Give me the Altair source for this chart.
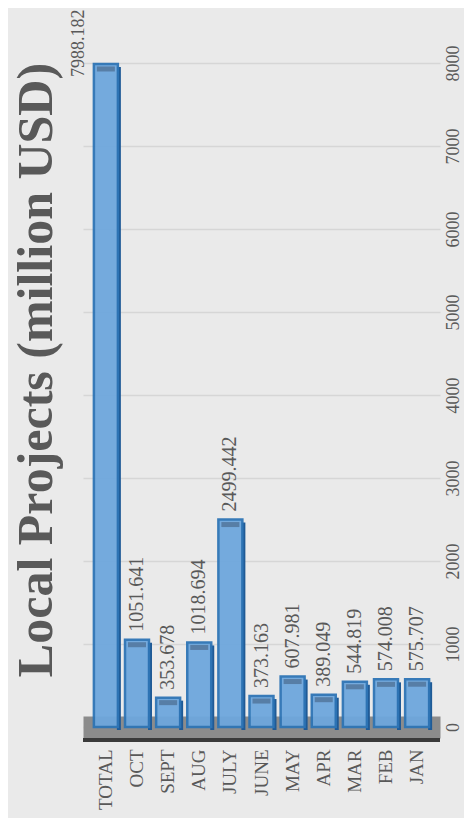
import altair as alt
import pandas as pd

months = ["TOTAL", "OCT", "SEPT", "AUG", "JULY", "JUNE", "MAY", "APR", "MAR", "FEB", "JAN"]
values = [7988.182, 1051.641, 353.678, 1018.694, 2499.442, 373.163, 607.981, 389.049, 544.819, 574.008, 575.707]
y_ticks = [0, 1000, 2000, 3000, 4000, 5000, 6000, 7000, 8000]
title_text = "Local Projects (million USD)"

df = pd.DataFrame({"month": months, "value": values})

SERIF = "Liberation Serif"
GREY = "#595959"

x_enc = alt.X(
    "month:N",
    sort=months,
    title=None,
    scale=alt.Scale(paddingInner=0.23, paddingOuter=0.35),
    axis=alt.Axis(
        labelAngle=270,
        labelFont=SERIF,
        labelFontSize=19,
        labelColor=GREY,
        labelPadding=22,
        ticks=False,
        tickSize=0,
        domainColor="#8c8c8c",
        domainWidth=22,
        grid=False,
    ),
)
y_enc = alt.Y(
    "value:Q",
    title=None,
    scale=alt.Scale(domain=[0, 8000], nice=False),
    axis=alt.Axis(
        orient="right",
        values=y_ticks,
        format="d",
        labelAngle=270,
        labelAlign="center",
        labelBaseline="top",
        labelFont=SERIF,
        labelFontSize=18,
        labelColor=GREY,
        labelPadding=4,
        ticks=False,
        tickSize=0,
        domain=False,
        grid=True,
        gridColor="#d6d6d6",
        gridWidth=1.5,
    ),
)

base = alt.Chart(df).encode(x=x_enc)

floor_line = alt.Chart(df).mark_rule(color="#3a3a3a", strokeWidth=4, yOffset=13).encode(
    y=alt.datum(0)
)

side = base.mark_bar(width=4, xOffset=13, yOffset=3, color="#1f5a96").encode(y=y_enc)

bars = base.mark_bar(
    color="#6ea7dd", stroke="#2e75b6", strokeWidth=2.5, opacity=0.95
).encode(y=y_enc)

caps = base.mark_tick(
    color="#4b6b8f", thickness=5, size=18, yOffset=5
).encode(y=y_enc)

labels = base.transform_filter(alt.datum.month != "TOTAL").mark_text(
    angle=270, align="left", baseline="middle", dx=8,
    font=SERIF, fontSize=20, color=GREY
).encode(y=y_enc, text=alt.Text("value:Q", format=".3f"))

total_label = base.transform_filter(alt.datum.month == "TOTAL").mark_text(
    angle=270, align="left", baseline="middle", dx=-13, dy=-27,
    font=SERIF, fontSize=18, color=GREY
).encode(y=y_enc, text=alt.Text("value:Q", format=".3f"))

chart = alt.layer(floor_line, side, bars, caps, labels, total_label).properties(
    width=357,
    height=664,
    background="#eaeaea",
    autosize=alt.AutoSizeParams(type="none"),
    padding={"left": 75, "top": 55, "right": 24, "bottom": 91},
    title=alt.TitleParams(
        title_text,
        orient="left",
        font=SERIF,
        fontSize=50,
        fontWeight="bold",
        color=GREY,
        offset=8,
        dx=25,
    ),
).configure_view(stroke=None)

chart.save("out.html", embed_options={"renderer": "svg", "actions": False})
